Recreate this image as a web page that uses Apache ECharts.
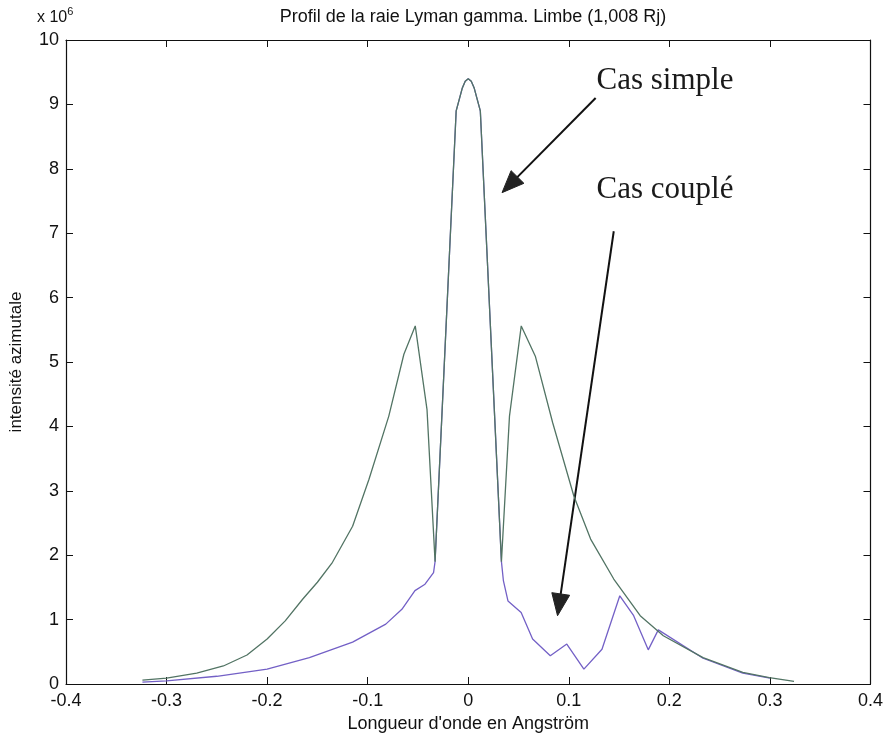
<!DOCTYPE html>
<html><head><meta charset="utf-8">
<script src="https://cdn.jsdelivr.net/npm/echarts@6/dist/echarts.min.js"></script>
<style>html,body{margin:0;padding:0;background:#fff}#c{width:886px;height:738px}</style>
</head><body><div id="c"></div>
<script>
// ---- data (values in units of 10^6) ----
const xSimple = [-0.324,-0.300,-0.270,-0.2435,-0.220,-0.200,-0.182,-0.1645,-0.150,-0.135,-0.115,-0.0987,-0.079,-0.064,-0.0527,-0.041,-0.033,-0.0185,-0.012,-0.006,-0.003,0,0.003,0.006,0.012,0.0185,0.033,0.041,0.0527,0.0667,0.0839,0.105,0.1217,0.1447,0.171,0.194,0.2335,0.273,0.2994,0.324];
const ySimple = [0.06,0.09,0.17,0.28,0.45,0.70,0.98,1.32,1.58,1.89,2.45,3.18,4.16,5.12,5.56,4.26,1.90,6.74,8.90,9.25,9.36,9.40,9.36,9.25,8.90,6.74,1.90,4.16,5.56,5.09,4.06,2.92,2.25,1.63,1.06,0.75,0.41,0.18,0.10,0.04];
const xCouple = [-0.324,-0.300,-0.250,-0.200,-0.158,-0.115,-0.082,-0.066,-0.053,-0.043,-0.0345,-0.033,-0.0185,-0.012,-0.006,-0.003,0,0.003,0.006,0.012,0.0185,0.033,0.035,0.0395,0.0526,0.064,0.0816,0.098,0.115,0.133,0.1507,0.1645,0.179,0.189,0.2335,0.273,0.300];
const yCouple = [0.03,0.05,0.12,0.23,0.41,0.65,0.93,1.16,1.45,1.55,1.73,1.90,6.74,8.90,9.25,9.36,9.40,9.36,9.25,8.90,6.74,1.90,1.60,1.29,1.11,0.70,0.44,0.62,0.23,0.54,1.37,1.06,0.53,0.84,0.40,0.17,0.09];
const xTicks = [-0.4,-0.3,-0.2,-0.1,0,0.1,0.2,0.3,0.4];
const yTicks = [0,1,2,3,4,5,6,7,8,9,10];
// annotations: [text, textAnchorX, textAnchorY, arrowStartX, arrowStartY, arrowTipX, arrowTipY] in data units
const annSimple = ['Cas simple', 0.1276, 9.13, 0.1267, 9.10, 0.0336, 7.63];
const annCouple = ['Cas couplé', 0.1276, 7.43, 0.1447, 7.03, 0.0888, 1.06];

const chart = echarts.init(document.getElementById('c'), null, {renderer:'canvas'});
const SANS = '"Liberation Sans", Arial, Helvetica, sans-serif';
const SERIF = '"Liberation Serif", "Times New Roman", serif';
const pairs = (xs, ys) => xs.map((x,i)=>[x, ys[i]]);
const common = {
  min: xTicks[0], max: xTicks[xTicks.length-1], interval: 0.1,
};
chart.setOption({
  animation:false,
  backgroundColor:'#fff',
  title:{text:'Profil de la raie Lyman gamma. Limbe (1,008 Rj)', left:468, top:3, textAlign:'center',
    textStyle:{fontFamily:SANS, fontSize:18, fontWeight:'normal', color:'#111'}},
  grid:{left:62, right:14, top:40, bottom:53, containLabel:false},
  xAxis:[
    Object.assign({type:'value', position:'bottom',
      name:"Longueur d'onde en Angström", nameLocation:'middle', nameGap:31,
      nameTextStyle:{fontFamily:SANS, fontSize:18, color:'#111'},
      axisLine:{show:true, onZero:false, lineStyle:{color:'#111', width:1.2}},
      axisTick:{show:true, inside:true, length:7, lineStyle:{color:'#111'}},
      axisLabel:{fontFamily:SANS, fontSize:18, color:'#111', margin:8,
        formatter:v=> Math.abs(v)<1e-9 ? '0' : (+v).toFixed(1)},
      splitLine:{show:false}}, common),
    Object.assign({type:'value', position:'top',
      axisLine:{show:true, onZero:false, lineStyle:{color:'#111', width:1.2}},
      axisTick:{show:true, inside:true, length:7, lineStyle:{color:'#111'}},
      axisLabel:{show:false}, splitLine:{show:false}}, common)
  ],
  yAxis:[
    {type:'value', min:yTicks[0], max:yTicks[yTicks.length-1], interval:1, position:'left',
      name:'intensité azimutale', nameLocation:'middle', nameGap:41, nameRotate:90,
      nameTextStyle:{fontFamily:SANS, fontSize:17, color:'#111'},
      axisLine:{show:true, onZero:false, lineStyle:{color:'#111', width:1.2}},
      axisTick:{show:true, inside:true, length:7, lineStyle:{color:'#111'}},
      axisLabel:{fontFamily:SANS, fontSize:18, color:'#111', margin:7},
      splitLine:{show:false}},
    {type:'value', min:yTicks[0], max:yTicks[yTicks.length-1], interval:1, position:'right',
      axisLine:{show:true, onZero:false, lineStyle:{color:'#111', width:1.2}},
      axisTick:{show:true, inside:true, length:7, lineStyle:{color:'#111'}},
      axisLabel:{show:false}, splitLine:{show:false}}
  ],
  series:[
    {name:'Cas couplé', type:'line', data:pairs(xCouple,yCouple), showSymbol:false, symbol:'none',
      lineStyle:{color:'#7360c6', width:1.3}, z:2},
    {name:'Cas simple', type:'line', data:pairs(xSimple,ySimple), showSymbol:false, symbol:'none',
      lineStyle:{color:'#527464', width:1.3}, z:3}
  ]
});

function arrowGraphics(a){
  const t = chart.convertToPixel({gridIndex:0},[a[1],a[2]]);
  const s = chart.convertToPixel({gridIndex:0},[a[3],a[4]]);
  const e = chart.convertToPixel({gridIndex:0},[a[5],a[6]]);
  const dx=e[0]-s[0], dy=e[1]-s[1], L=Math.hypot(dx,dy), ux=dx/L, uy=dy/L;
  const hl=22, hw=9;
  const bx=e[0]-ux*hl, by=e[1]-uy*hl;
  return [
    {type:'text', x:t[0], y:t[1], style:{text:a[0], font:'31px '+SERIF, fill:'#1a1a1a', textVerticalAlign:'bottom'}},
    {type:'line', shape:{x1:s[0],y1:s[1],x2:bx+ux*2,y2:by+uy*2}, style:{stroke:'#111', lineWidth:2}},
    {type:'polygon', shape:{points:[[e[0],e[1]],[bx-uy*hw,by+ux*hw],[bx+uy*hw,by-ux*hw]]}, style:{fill:'#222', stroke:'#222'}}
  ];
}
chart.setOption({graphic:[
  {type:'text', x:37, y:29, style:{text:'x 10{s|6}', font:'16px '+SANS, fill:'#111', textVerticalAlign:'bottom',
     rich:{s:{fontSize:11, verticalAlign:'top', padding:[0,0,12,0], fontFamily:SANS}}}},
  ...arrowGraphics(annSimple),
  ...arrowGraphics(annCouple)
]});
</script></body></html>
